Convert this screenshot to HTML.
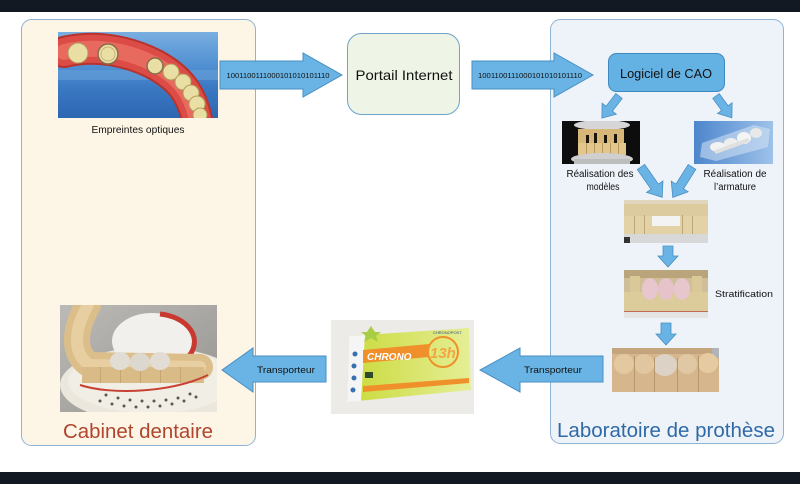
<!DOCTYPE html>
<html><head><meta charset="utf-8">
<style>
html,body{margin:0;padding:0;background:#fff;}
svg{display:block;}
text{font-family:"Liberation Sans",sans-serif;}
</style></head>
<body>
<svg width="800" height="484" viewBox="0 0 800 484" xmlns="http://www.w3.org/2000/svg">
<defs>
  <linearGradient id="scanbg" x1="0" y1="0" x2="0" y2="1">
    <stop offset="0" stop-color="#79aee0"/>
    <stop offset="0.4" stop-color="#4f8fd2"/>
    <stop offset="0.65" stop-color="#3b79c3"/>
    <stop offset="1" stop-color="#2d66b2"/>
  </linearGradient>
  <linearGradient id="armbg" x1="0" y1="0" x2="1" y2="0">
    <stop offset="0" stop-color="#4d86cc"/>
    <stop offset="1" stop-color="#9ec2ea"/>
  </linearGradient>
  <linearGradient id="cabbg" x1="0" y1="0" x2="1" y2="1">
    <stop offset="0" stop-color="#bcbab7"/>
    <stop offset="1" stop-color="#96948f"/>
  </linearGradient>
  <linearGradient id="bag" x1="0" y1="0" x2="1" y2="0">
    <stop offset="0" stop-color="#c9da3a"/>
    <stop offset="1" stop-color="#e6ee96"/>
  </linearGradient>
</defs>

<!-- dark bars -->
<rect x="0" y="0" width="800" height="12" fill="#121923"/>
<rect x="0" y="472" width="800" height="12" fill="#121923"/>

<!-- panels -->
<rect x="21.5" y="19.5" width="234" height="426" rx="10" fill="#fdf6e7" stroke="#8fb3d3" stroke-width="1"/>
<rect x="550.5" y="19.5" width="233" height="424" rx="10" fill="#eef3fa" stroke="#8fb3d3" stroke-width="1"/>

<!-- Photo 1: optical impressions -->
<svg x="58" y="32" width="160" height="86">
  <rect width="160" height="86" fill="url(#scanbg)"/>
  <rect y="38" width="160" height="10" fill="#6ea4dc" opacity="0.5"/>
  <path d="M6,20 C40,12 72,20 96,32 C120,45 134,60 140,92" stroke="#b8322e" stroke-width="32" fill="none" stroke-linecap="round"/>
  <path d="M6,20 C40,12 72,20 96,32 C120,45 134,60 140,92" stroke="#dc4c46" stroke-width="28" fill="none" stroke-linecap="round"/>
  <path d="M6,20 C40,12 72,20 96,32 C120,45 134,60 140,92" stroke="#e86a5e" stroke-width="16" fill="none" stroke-linecap="round"/>
  <circle cx="20" cy="21" r="10" fill="#e9dfa4" stroke="#b39c5a" stroke-width="1"/>
  <circle cx="50" cy="22" r="10" fill="#e9dfa4" stroke="#8a6b4a" stroke-width="1.5"/>
  <circle cx="50" cy="22" r="7" fill="none" stroke="#c9b27a" stroke-width="1"/>
  <circle cx="97" cy="34" r="8" fill="#e9dfa4" stroke="#8a6b4a" stroke-width="1.5"/>
  <circle cx="113" cy="40" r="8" fill="#e9dfa4" stroke="#b39c5a" stroke-width="1"/>
  <circle cx="125" cy="50" r="8" fill="#e9dfa4" stroke="#b39c5a" stroke-width="1"/>
  <circle cx="133" cy="61" r="8" fill="#e9dfa4" stroke="#b39c5a" stroke-width="1"/>
  <circle cx="139" cy="72" r="8" fill="#e9dfa4" stroke="#b39c5a" stroke-width="1"/>
  <circle cx="142" cy="83" r="7" fill="#e9dfa4" stroke="#b39c5a" stroke-width="1"/>
</svg>
<text x="138" y="133" font-size="10" text-anchor="middle" fill="#111" textLength="93" lengthAdjust="spacingAndGlyphs">Empreintes optiques</text>

<!-- arrow 1 -->
<polygon points="220,61 303,61 303,53 342,75 303,97 303,89 220,89" fill="#69b4e4" stroke="#4a8fc3" stroke-width="1"/>
<text x="278" y="78" font-size="7.6" text-anchor="middle" fill="#111" textLength="103" lengthAdjust="spacingAndGlyphs">1001100111000101010101110</text>

<!-- Portail Internet -->
<rect x="347.5" y="33.5" width="112" height="81" rx="14" fill="#eef4e6" stroke="#6fa3cf" stroke-width="1"/>
<text x="404" y="80" font-size="14" text-anchor="middle" fill="#111" textLength="97" lengthAdjust="spacingAndGlyphs">Portail Internet</text>

<!-- arrow 2 -->
<polygon points="472,61 554,61 554,53 593,75 554,97 554,89 472,89" fill="#69b4e4" stroke="#4a8fc3" stroke-width="1"/>
<text x="530" y="78" font-size="7.6" text-anchor="middle" fill="#111" textLength="104" lengthAdjust="spacingAndGlyphs">1001100111000101010101110</text>

<!-- Logiciel de CAO -->
<rect x="608.5" y="53.5" width="116" height="38" rx="8" fill="#64b2e4" stroke="#3f88c0" stroke-width="1"/>
<text x="666" y="78" font-size="13" text-anchor="middle" fill="#111" textLength="92" lengthAdjust="spacingAndGlyphs">Logiciel de CAO</text>

<!-- diagonal arrows -->
<g fill="#69b4e4" stroke="#4a8fc3" stroke-width="0.8">
  <polygon transform="translate(619,96) rotate(127.7)" points="0,-4 16,-4 16,-9 28,0 16,9 16,4 0,4"/>
  <polygon transform="translate(716,96) rotate(54)" points="0,-4 15,-4 15,-9 27,0 15,9 15,4 0,4"/>
  <polygon transform="translate(641,167) rotate(55)" points="0,-4.5 24,-4.5 24,-10 37,0 24,10 24,4.5 0,4.5"/>
  <polygon transform="translate(692,167) rotate(122.3)" points="0,-4.5 23,-4.5 23,-10 36,0 23,10 23,4.5 0,4.5"/>
  <polygon points="663,246 673,246 673,256 678,256 668,267 658,256 663,256"/>
  <polygon points="661,323 671,323 671,334 676,334 666,345 656,334 661,334"/>
</g>

<!-- Photo 2: models -->
<svg x="562" y="121" width="78" height="43">
  <rect width="78" height="43" fill="#0d0d0d"/>
  <ellipse cx="40" cy="4" rx="28" ry="5" fill="#d6d6d6"/>
  <rect x="16" y="8" width="46" height="14" fill="#d7b777"/>
  <g fill="#1a140c"><rect x="24" y="14" width="3" height="8"/><rect x="32" y="12" width="3" height="10"/><rect x="42" y="14" width="3" height="8"/><rect x="52" y="13" width="3" height="9"/></g>
  <rect x="16" y="22" width="48" height="12" fill="#e2c68b"/>
  <g fill="#b89a60"><rect x="24" y="22" width="1" height="12"/><rect x="32" y="22" width="1" height="12"/><rect x="40" y="22" width="1" height="12"/><rect x="48" y="22" width="1" height="12"/><rect x="56" y="22" width="1" height="12"/></g>
  <ellipse cx="40" cy="38" rx="31" ry="6" fill="#cfcfcf"/>
  <rect x="12" y="38" width="56" height="5" fill="#bdbdbd"/>
</svg>

<!-- Photo 3: armature -->
<svg x="694" y="121" width="79" height="43">
  <rect width="79" height="43" fill="url(#armbg)"/>
  <polygon points="8,22 60,4 76,8 74,26 22,40 6,36" fill="#d6e4f4" opacity="0.55"/>
  <ellipse cx="24" cy="26" rx="8" ry="5" fill="#f2f2f2"/>
  <ellipse cx="37" cy="22" rx="7" ry="5" fill="#eeeeee"/>
  <ellipse cx="50" cy="17" rx="7" ry="6" fill="#f4f4f4"/>
  <ellipse cx="62" cy="12" rx="6" ry="5" fill="#e8e8e8"/>
  <rect x="20" y="23" width="36" height="4" fill="#e0e0e0" transform="rotate(-20 38 25)"/>
</svg>

<text x="600" y="177" font-size="10" text-anchor="middle" fill="#111" textLength="67" lengthAdjust="spacingAndGlyphs">Réalisation des</text>
<text x="603" y="190" font-size="10" text-anchor="middle" fill="#111" textLength="33" lengthAdjust="spacingAndGlyphs">modèles</text>
<text x="735" y="177" font-size="10" text-anchor="middle" fill="#111" textLength="63" lengthAdjust="spacingAndGlyphs">Réalisation de</text>
<text x="735" y="190" font-size="10" text-anchor="middle" fill="#111" textLength="42" lengthAdjust="spacingAndGlyphs">l’armature</text>

<!-- Photo 4: model with armature -->
<svg x="624" y="200" width="84" height="43">
  <rect width="84" height="43" fill="#c9c3b6"/>
  <rect x="0" y="0" width="84" height="6" fill="#e0d6bc"/>
  <path d="M0,4 L84,4 L84,16 L0,18 Z" fill="#dccb9e"/>
  <rect x="0" y="16" width="84" height="20" fill="#e2d2a6"/>
  <g fill="#bda77a"><rect x="10" y="16" width="1" height="18"/><rect x="20" y="15" width="1" height="19"/><rect x="58" y="15" width="1" height="19"/><rect x="68" y="16" width="1" height="18"/></g>
  <rect x="28" y="16" width="28" height="10" fill="#f3f3f3"/>
  <rect x="0" y="34" width="84" height="9" fill="#d8d8d8"/>
  <rect x="0" y="37" width="6" height="6" fill="#333"/>
</svg>

<!-- Photo 5: stratification -->
<svg x="624" y="270" width="84" height="48">
  <rect width="84" height="48" fill="#cfbf98"/>
  <rect width="84" height="8" fill="#b9a47c"/>
  <rect x="0" y="22" width="84" height="20" fill="#dccc9c"/>
  <ellipse cx="26" cy="19" rx="8" ry="11" fill="#e8c6ce"/>
  <ellipse cx="42" cy="19" rx="8" ry="11" fill="#e6c2cb"/>
  <ellipse cx="58" cy="19" rx="8" ry="11" fill="#e8c6ce"/>
  <rect x="6" y="6" width="10" height="16" fill="#dac898"/>
  <rect x="68" y="6" width="10" height="16" fill="#dac898"/>
  <rect x="0" y="42" width="84" height="6" fill="#e4e4e4"/>
  <rect x="0" y="41" width="84" height="1" fill="#c26a5a"/>
</svg>
<text x="715" y="297" font-size="9.5" fill="#111" textLength="58" lengthAdjust="spacingAndGlyphs">Stratification</text>

<!-- Photo 6: final prosthesis -->
<svg x="612" y="348" width="107" height="44">
  <rect width="107" height="44" fill="#d6b78d"/>
  <rect width="107" height="6" fill="#c4a47c"/>
  <rect x="100" y="0" width="7" height="10" fill="#b0b4b8"/>
  <ellipse cx="12" cy="16" rx="10" ry="10" fill="#e4c8a0"/>
  <ellipse cx="32" cy="16" rx="10" ry="10" fill="#e2c6a0"/>
  <ellipse cx="53" cy="17" rx="12" ry="11" fill="#dcd2c6"/>
  <ellipse cx="75" cy="16" rx="10" ry="10" fill="#e0c8a4"/>
  <ellipse cx="96" cy="15" rx="10" ry="10" fill="#e6caa2"/>
  <g fill="#b8966c"><rect x="22" y="8" width="1" height="36"/><rect x="42" y="10" width="1" height="34"/><rect x="65" y="10" width="1" height="34"/><rect x="86" y="8" width="1" height="36"/></g>
</svg>

<!-- Transporteur arrows -->
<polygon points="326,356 253,356 253,348 222,370 253,392 253,382 326,382" fill="#69b4e4" stroke="#4a8fc3" stroke-width="1"/>
<text x="286" y="373" font-size="9.5" text-anchor="middle" fill="#111" textLength="58" lengthAdjust="spacingAndGlyphs">Transporteur</text>
<polygon points="603,356 520,356 520,348 480,370 520,392 520,382 603,382" fill="#69b4e4" stroke="#4a8fc3" stroke-width="1"/>
<text x="553" y="373" font-size="9.5" text-anchor="middle" fill="#111" textLength="58" lengthAdjust="spacingAndGlyphs">Transporteur</text>

<!-- Chrono package -->
<svg x="331" y="320" width="143" height="94">
  <rect width="143" height="94" fill="#ecebe8"/>
  <polygon points="18,16 138,8 140,70 16,82" fill="url(#bag)"/>
  <polygon points="18,16 34,15 30,81 16,82" fill="#f5f5f5"/>
  <g fill="#3a6fb0"><circle cx="24" cy="34" r="2.5"/><circle cx="23" cy="46" r="2.5"/><circle cx="23" cy="58" r="2.5"/><circle cx="22" cy="70" r="2.5"/></g>
  <polygon points="40,6 44,12 50,12 45,16 47,22 40,18 33,22 35,16 30,12 36,12" fill="#a8cc44"/>
  <polygon points="32,30 98,24 98,37 32,43" fill="#f0902a"/>
  <text x="36" y="40" font-size="10" font-style="italic" font-weight="bold" fill="#fff">CHRONO</text>
  <circle cx="112" cy="32" r="15" fill="none" stroke="#f0902a" stroke-width="2"/>
  <text x="99" y="38" font-size="15" font-style="italic" font-weight="bold" fill="#f3a640">13h</text>
  <polygon points="32,66 138,58 138,63 32,72" fill="#f0902a"/>
  <rect x="34" y="52" width="8" height="6" fill="#2d4a2a"/>
  <text x="102" y="14" font-size="4" fill="#2a4c8c">CHRONOPOST</text>
</svg>

<!-- Cabinet photo -->
<svg x="60" y="305" width="157" height="107">
  <rect width="157" height="107" fill="url(#cabbg)"/>
  <ellipse cx="92" cy="80" rx="92" ry="38" fill="#ebe7dd"/>
  <ellipse cx="92" cy="76" rx="84" ry="32" fill="#f1eee6"/>
  <g fill="#5a5a4a">
    <circle cx="40" cy="96" r="1.5"/><circle cx="52" cy="99" r="1.5"/><circle cx="64" cy="101" r="1.5"/><circle cx="76" cy="102" r="1.5"/><circle cx="88" cy="102" r="1.5"/><circle cx="100" cy="101" r="1.5"/><circle cx="112" cy="99" r="1.5"/><circle cx="124" cy="96" r="1.5"/><circle cx="136" cy="92" r="1.5"/>
    <circle cx="46" cy="90" r="1.5"/><circle cx="58" cy="93" r="1.5"/><circle cx="70" cy="95" r="1.5"/><circle cx="82" cy="96" r="1.5"/><circle cx="94" cy="96" r="1.5"/><circle cx="106" cy="95" r="1.5"/><circle cx="118" cy="93" r="1.5"/><circle cx="130" cy="89" r="1.5"/>
  </g>
  <ellipse cx="92" cy="36" rx="40" ry="28" fill="#f2f0ec"/>
  <path d="M100,9 A40,28 0 0 1 128,52" fill="none" stroke="#c83a30" stroke-width="5"/>
  <path d="M28,0 C12,28 14,50 30,60 L140,62" stroke="#dcbe8a" stroke-width="26" fill="none" stroke-linecap="round" stroke-linejoin="round"/>
  <path d="M28,0 C12,28 14,50 30,60 L140,62" stroke="#e8cfa2" stroke-width="12" fill="none" stroke-linecap="round" stroke-linejoin="round"/>
  <rect x="22" y="62" width="122" height="16" fill="#d9bb88"/>
  <g fill="#c6a672"><rect x="40" y="62" width="1" height="16"/><rect x="60" y="62" width="1" height="16"/><rect x="80" y="62" width="1" height="16"/><rect x="100" y="62" width="1" height="16"/><rect x="120" y="62" width="1" height="16"/></g>
  <ellipse cx="60" cy="56" rx="10" ry="9" fill="#e2ddd4"/>
  <ellipse cx="80" cy="57" rx="10" ry="9" fill="#ddd8cf"/>
  <ellipse cx="100" cy="56" rx="10" ry="9" fill="#e2ddd4"/>
  <path d="M20,80 C50,90 110,88 148,70" stroke="#c84032" stroke-width="2" fill="none"/>
</svg>

<!-- Titles -->
<text x="138" y="438" font-size="20.5" text-anchor="middle" fill="#b0452d" textLength="150" lengthAdjust="spacingAndGlyphs">Cabinet dentaire</text>
<text x="666" y="437" font-size="20.5" text-anchor="middle" fill="#2f6aa6" textLength="218" lengthAdjust="spacingAndGlyphs">Laboratoire de prothèse</text>
</svg>
</body></html>
